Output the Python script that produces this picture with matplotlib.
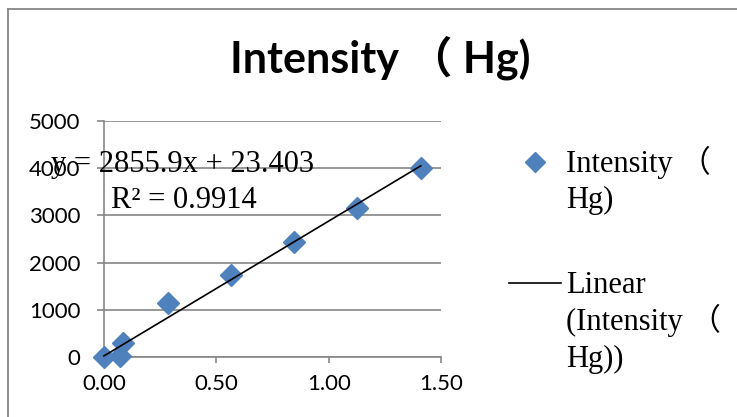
import matplotlib
matplotlib.use("Agg")
import matplotlib.pyplot as plt
from matplotlib.lines import Line2D
from matplotlib.ticker import FormatStrFormatter

# Measured data
concentration = [0.0, 0.07, 0.085, 0.285, 0.565, 0.845, 1.125, 1.41]
intensity = [0, 20, 300, 1143, 1735, 2434, 3153, 4000]
series_name = "Intensity （ Hg)"

# Linear trendline reported on the chart
slope = 2855.9
intercept = 23.403
r_squared = 0.9914

x_ticks = [0.0, 0.5, 1.0, 1.5]
y_ticks = [0, 1000, 2000, 3000, 4000, 5000]

W, H = 737, 417
fig = plt.figure(figsize=(W / 100, H / 100), dpi=100)


def fx(px):
    return px / W


def fy(py):
    return 1 - py / H


blue = "#4F81BD"
gray = "#868686"
serif = ["Liberation Serif", "Noto Sans CJK SC"]
sans = ["Lato", "Noto Sans CJK SC"]

# Chart frame (top and left edges)
fig.add_artist(Line2D([fx(8), fx(8)], [fy(9), 0], color=gray, lw=1.3))
fig.add_artist(Line2D([fx(8), 1], [fy(9), fy(9)], color=gray, lw=1.3))

ax = fig.add_axes([fx(104), fy(357), fx(441) - fx(104), fy(121) - fy(357)])
ax.set_xlim(0, 1.5)
ax.set_ylim(0, 5000)
ax.set_xticks(x_ticks)
ax.set_yticks(y_ticks)
ax.xaxis.set_major_formatter(FormatStrFormatter("%.2f"))
ax.grid(axis="y", color=gray, lw=1.2)
ax.set_axisbelow(True)
for side in ("top", "right"):
    ax.spines[side].set_visible(False)
for side in ("left", "bottom"):
    ax.spines[side].set_color(gray)
    ax.spines[side].set_linewidth(1.2)
ax.tick_params(axis="x", direction="out", length=4, width=1.2, color=gray,
               pad=8, labelsize=16)
ax.tick_params(axis="y", direction="out", length=5, width=1.2, color=gray,
               pad=12, labelsize=16)
for lbl in ax.get_xticklabels() + ax.get_yticklabels():
    lbl.set_family(sans)

# Scatter series
ax.plot(concentration, intensity, linestyle="none", marker="D", ms=11,
        color=blue, clip_on=False, zorder=3)

# Linear trendline over the data range
x0, x1 = min(concentration), max(concentration)
ax.plot([x0, x1], [slope * x0 + intercept, slope * x1 + intercept],
        color="black", lw=1.2, zorder=4, clip_on=False)

# Title
fig.text(fx(380), fy(73), series_name, ha="center", va="baseline",
         fontsize=31, fontweight="bold", family=sans)

# Trendline equation
fig.text(fx(183), fy(172), f"y = {slope}x + {intercept}", ha="center",
         va="baseline", fontsize=22, family=serif)
fig.text(fx(184), fy(208), f"R² = {r_squared}", ha="center",
         va="baseline", fontsize=22, family=serif)

# Legend
name_head, name_tail = series_name.rsplit(" ", 1)
fig.add_artist(Line2D([fx(535)], [fy(162)], marker="D", ms=10, color=blue,
                      linestyle="none"))
for i, line in enumerate([name_head, name_tail]):
    fig.text(fx(566), fy(172 + 36 * i), line, ha="left", va="baseline",
             fontsize=22, family=serif)
fig.add_artist(Line2D([fx(509), fx(561)], [fy(283), fy(283)], color="black",
                      lw=1.2))
for i, line in enumerate(["Linear", "(" + name_head, name_tail + ")"]):
    fig.text(fx(566), fy(293 + 37 * i), line, ha="left", va="baseline",
             fontsize=22, family=serif)

fig.savefig("out.png", dpi=100)
